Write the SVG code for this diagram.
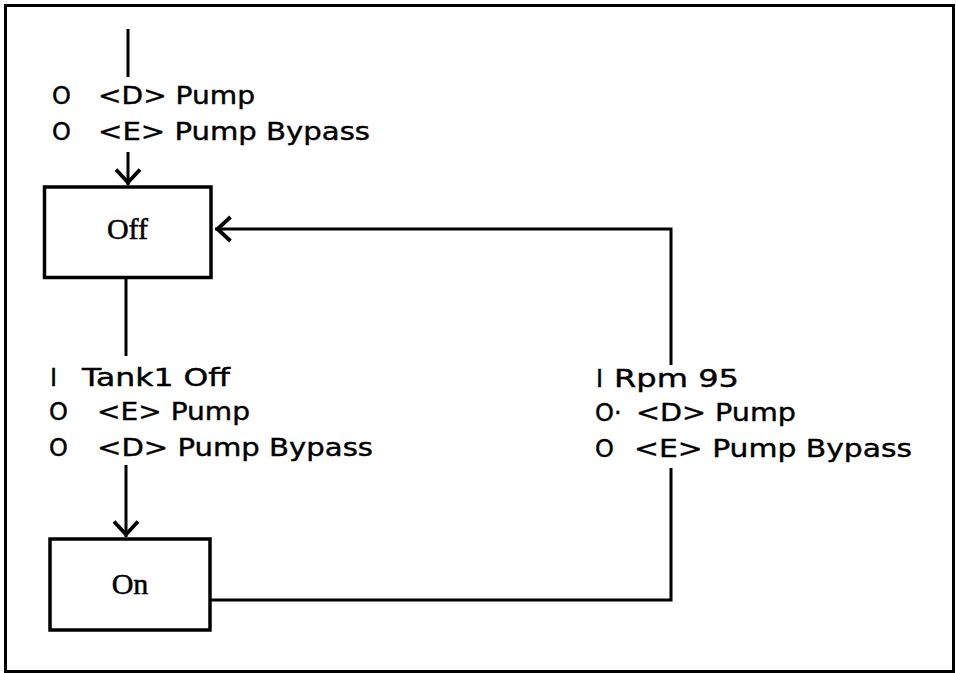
<svg xmlns="http://www.w3.org/2000/svg" width="956" height="673" viewBox="0 0 956 673">
<style>
.frame{fill:none;stroke:#000;stroke-width:3}
.box{fill:#fff;stroke:#000;stroke-width:3.5}
.conn{fill:none;stroke:#000;stroke-width:3}
.lbl{font-family:"DejaVu Sans","Liberation Sans",sans-serif;font-size:24px;fill:#000;stroke:#000;stroke-width:0.4}
.st{font-family:"Liberation Serif","Times New Roman",serif;font-size:30px;fill:#000;stroke:#000;stroke-width:0.5;text-anchor:middle}
</style>
<defs>
<marker id="arr" viewBox="-16 -14 20 28" markerWidth="20" markerHeight="28" refX="2.5" refY="0" orient="auto" markerUnits="userSpaceOnUse">
<path d="M-13,-12 L0,0 L-13,12" fill="none" stroke="#000" stroke-width="3.8"/>
</marker>
</defs>
<rect class="frame" x="5.5" y="5.5" width="948" height="666"/>
<g id="connectors">
<path class="conn" d="M128 29 V77"/>
<path class="conn" d="M128 152 V185" marker-end="url(#arr)"/>
<path class="conn" d="M126 279 V356"/>
<path class="conn" d="M126 465 V537" marker-end="url(#arr)"/>
<path class="conn" d="M210 600 H671 V468"/>
<path class="conn" d="M671 365 V229 H215" marker-end="url(#arr)"/>
</g>
<g id="label-init">
<text class="lbl" x="52" y="104">O</text>
<text class="lbl" x="98" y="104" textLength="157" lengthAdjust="spacingAndGlyphs">&lt;D&gt; Pump</text>
<text class="lbl" x="52" y="140">O</text>
<text class="lbl" x="98" y="140" textLength="272" lengthAdjust="spacingAndGlyphs">&lt;E&gt; Pump Bypass</text>
</g>
<g id="label-off-on">
<text class="lbl" x="50" y="386">I</text>
<text class="lbl" x="82" y="386" textLength="148" lengthAdjust="spacingAndGlyphs">Tank1 Off</text>
<text class="lbl" x="49" y="420">O</text>
<text class="lbl" x="97" y="420" textLength="153" lengthAdjust="spacingAndGlyphs">&lt;E&gt; Pump</text>
<text class="lbl" x="49" y="456">O</text>
<text class="lbl" x="97" y="456" textLength="276" lengthAdjust="spacingAndGlyphs">&lt;D&gt; Pump Bypass</text>
</g>
<g id="label-on-off">
<text class="lbl" x="596" y="387">I</text>
<text class="lbl" x="614" y="387" textLength="125" lengthAdjust="spacingAndGlyphs">Rpm 95</text>
<text class="lbl" x="595" y="421">O·</text>
<text class="lbl" x="636" y="421" textLength="160" lengthAdjust="spacingAndGlyphs">&lt;D&gt; Pump</text>
<text class="lbl" x="595" y="457">O</text>
<text class="lbl" x="634" y="457" textLength="278" lengthAdjust="spacingAndGlyphs">&lt;E&gt; Pump Bypass</text>
</g>
<g id="state-off">
<rect class="box" x="44.5" y="187" width="166.5" height="90.5"/>
<text class="st" x="127.5" y="239">Off</text>
</g>
<g id="state-on">
<rect class="box" x="50" y="539" width="160" height="91"/>
<text class="st" x="130" y="594">On</text>
</g>
</svg>
